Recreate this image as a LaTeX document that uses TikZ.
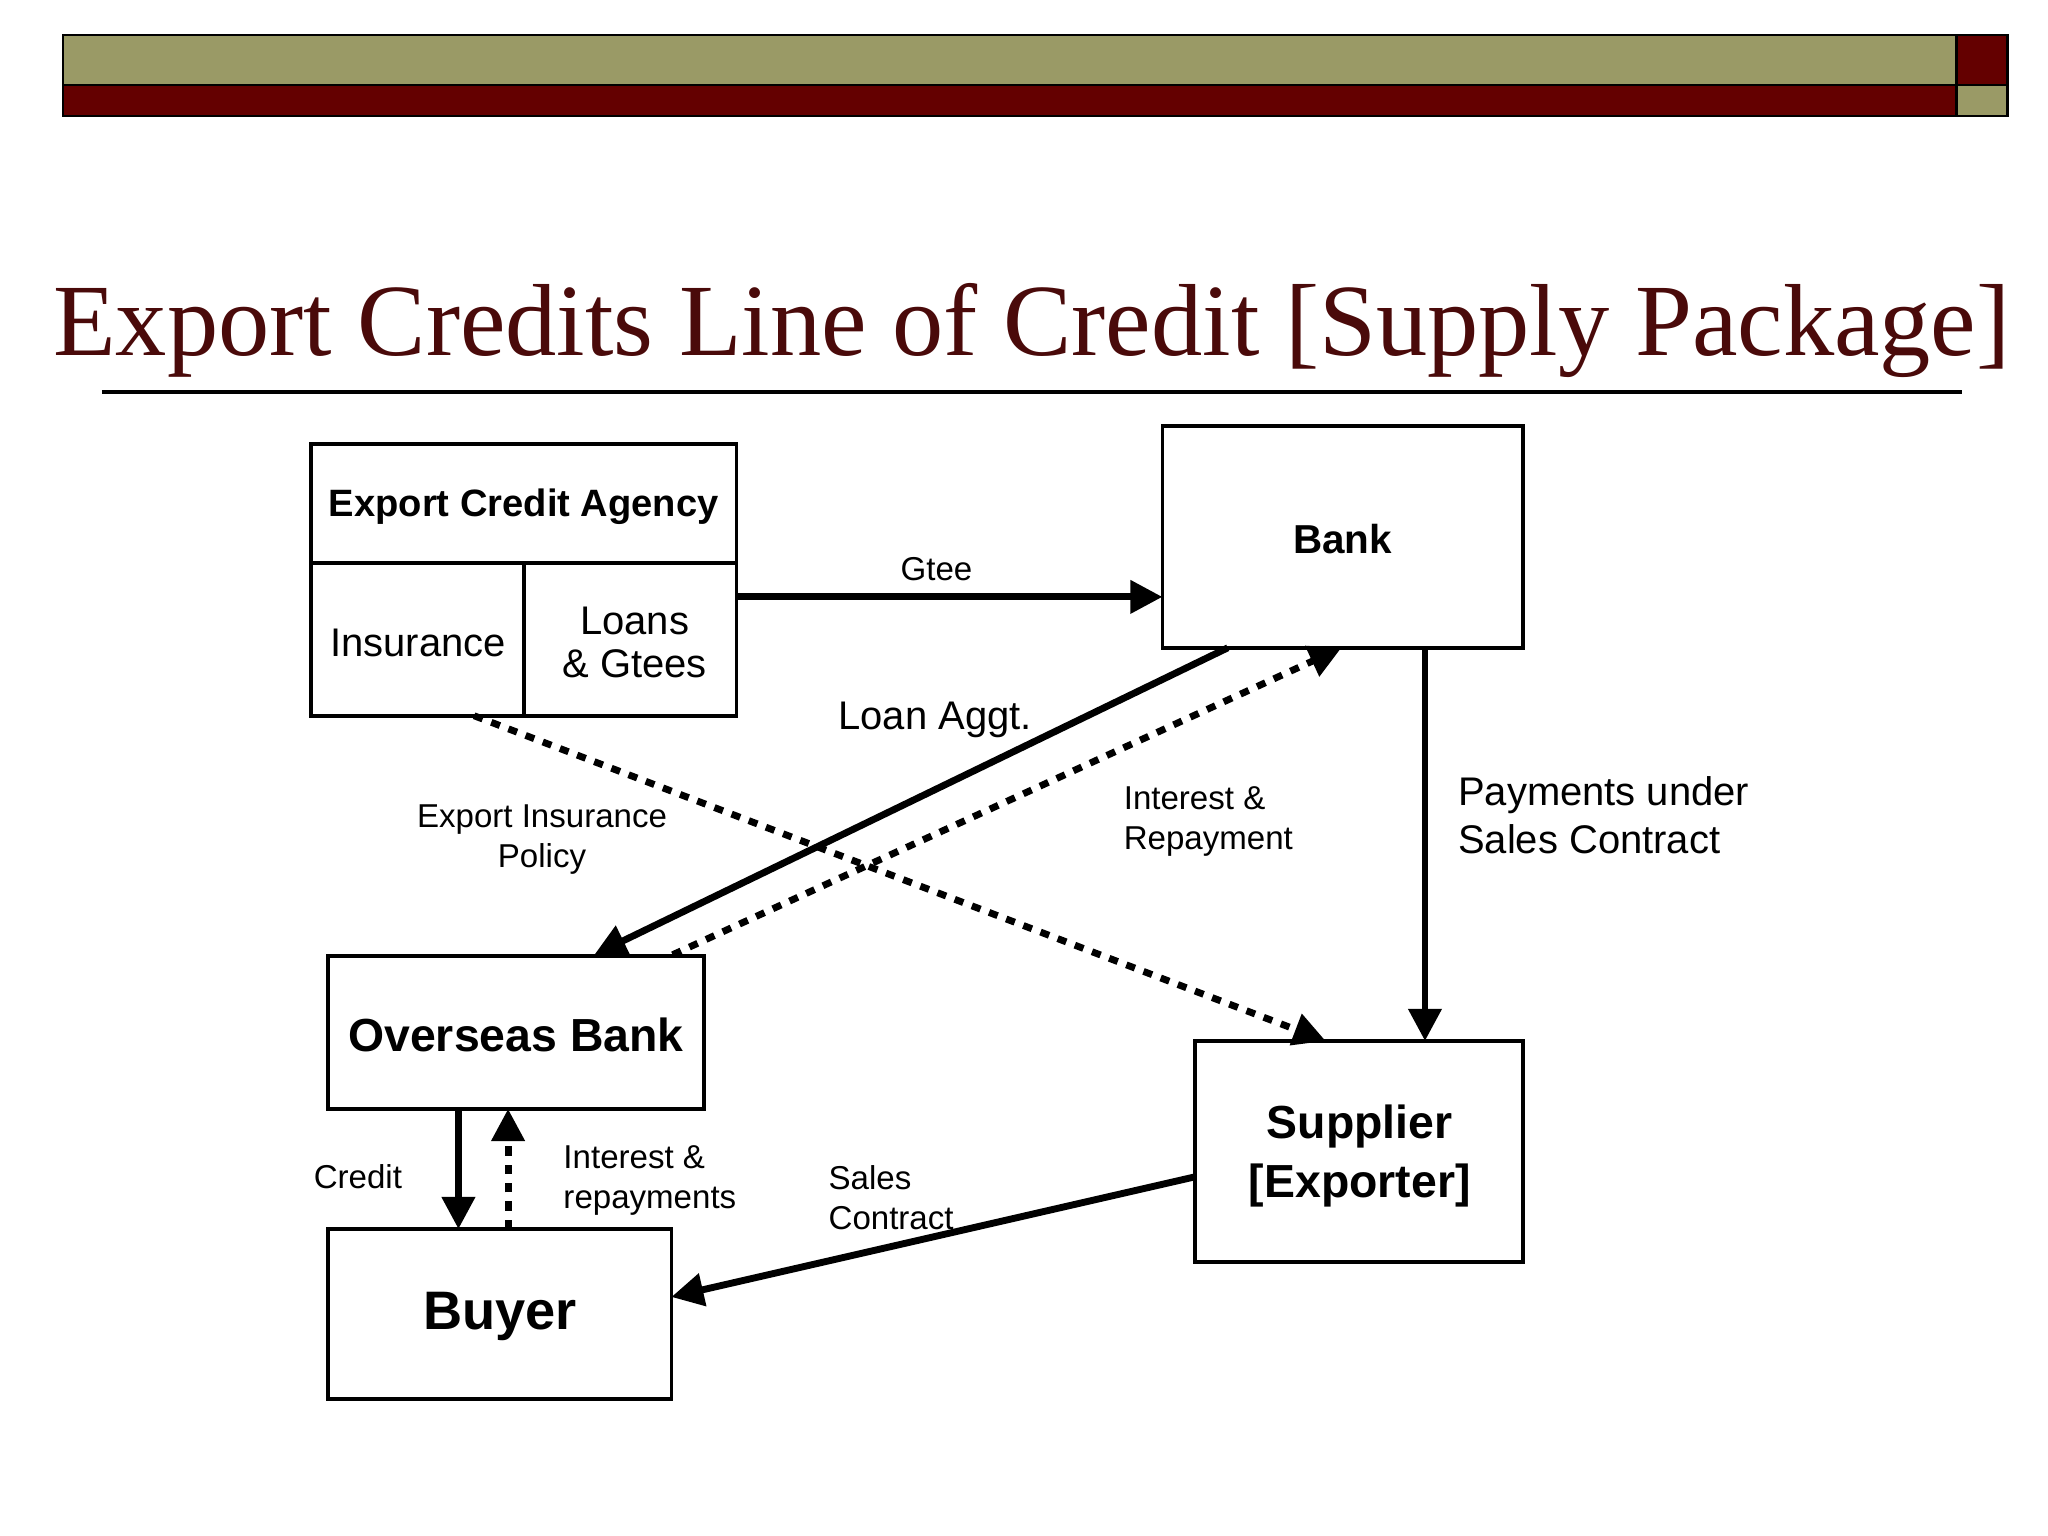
\documentclass[tikz,border=0pt]{standalone}
\usepackage{fontspec}
\setmainfont{Liberation Sans}
\newfontfamily\titlefont{Liberation Serif}
\usetikzlibrary{arrows.meta}
\definecolor{olive}{HTML}{9A9A66}
\definecolor{dred}{HTML}{640000}
\definecolor{tred}{HTML}{4A0A0A}
\begin{document}
\begin{tikzpicture}[x=0.01cm,y=-0.01cm,
  box/.style={draw,line width=0.8pt},
  arr/.style={line width=1.5pt,-{Triangle[length=7pt,width=7pt]}},
  dotarr/.style={arr,dash pattern=on 2pt off 2pt},
  lbl/.style={font=\fontsize{7.2}{8.8}\selectfont,align=left}]
\useasboundingbox (0,0) rectangle (1568,1176);
% top bar
\fill[olive,draw=black,line width=0.5pt] (48,27) rectangle (1498,65);
\fill[dred,draw=black,line width=0.5pt] (48,65) rectangle (1498,89);
\fill[dred,draw=black,line width=0.5pt] (1498,27) rectangle (1537,65);
\fill[olive,draw=black,line width=0.5pt] (1498,65) rectangle (1537,89);
% title
\node[text=tred,font=\titlefont\fontsize{22.3}{25}\selectfont] (title) at (790,253) {Export Credits Line of Credit [Supply Package]};
\draw[line width=0.8pt] (78,300) -- (1502,300);
% boxes
\draw[box] (238,340) rectangle (564,548);
\draw[box] (238,431) -- (564,431);
\draw[box] (401,431) -- (401,548);
\node[font=\bfseries\fontsize{8.3}{10}\selectfont] (eca) at (401,388) {Export Credit Agency};
\node[font=\fontsize{8.7}{10.5}\selectfont] (ins) at (320,492) {Insurance};
\node[font=\fontsize{8.7}{10.5}\selectfont,align=center] (loans) at (486,492) {Loans\\[-1pt]\& Gtees};
\coordinate (ecaR) at (564,457);
\coordinate (ecaB) at (363,548);
\draw[box] (890,326) rectangle (1166,496);
\node[font=\bfseries\fontsize{8.8}{11}\selectfont] (bank) at (1028,413) {Bank};
\draw[box] (251,732) rectangle (539,849);
\node[font=\bfseries\fontsize{10.1}{12}\selectfont] (ob) at (395,792) {Overseas Bank};
\draw[box] (915,797) rectangle (1166,966);
\node[font=\bfseries\fontsize{10.1}{12.8}\selectfont,align=center] (sup) at (1041,885) {Supplier\\{}[Exporter]};
\draw[box] (251,941) rectangle (514,1071);
\node[font=\bfseries\fontsize{11.8}{14}\selectfont] (buyer) at (383,1008) {Buyer};
% arrows
\draw[arr] (ecaR) -- (890,457);
\node[lbl] at (717,436) {Gtee};
\draw[arr] (940,496) -- (455,731);
\node[font=\fontsize{8.7}{11}\selectfont] at (716,551) {Loan Aggt.};
\draw[dotarr] (515,731) -- (1027,496);
\node[lbl,anchor=west] at (848,629) {Interest \&\\Repayment};
\draw[dotarr] (ecaB) -- (1015,797);
\node[lbl,align=center] at (415,643) {Export Insurance\\Policy};
\draw[arr] (1091,496) -- (1091,797);
\node[font=\fontsize{8.7}{10.5}\selectfont,align=left,anchor=west] at (1104,624) {Payments under\\Sales Contract};
\draw[arr] (351,849) -- (351,941);
\node[lbl] at (274,901) {Credit};
\draw[dotarr] (389,941) -- (389,849);
\node[lbl,anchor=west] at (419,904) {Interest \&\\repayments};
\draw[arr] (915,901) -- (514,993);
\node[lbl,anchor=west] at (622,917) {Sales\\Contract};
\end{tikzpicture}
\end{document}
